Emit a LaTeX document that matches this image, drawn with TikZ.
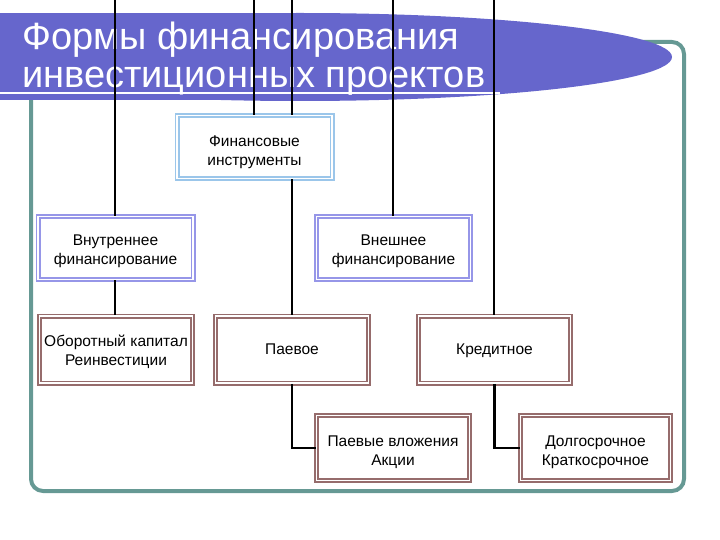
\documentclass[tikz,border=0pt]{standalone}
\usepackage{fontspec}
\setmainfont{Liberation Sans}
\definecolor{titleblue}{RGB}{102,102,204}
\definecolor{frameteal}{RGB}{102,153,148}
\definecolor{lightblue}{RGB}{155,198,234}
\definecolor{lavender}{RGB}{150,150,232}
\definecolor{mauve}{RGB}{150,108,108}
\newcommand{\bxtext}[2][4pt]{\raisebox{-#1}[\height][\depth]{\begin{tabular}{@{}c@{}}#2\end{tabular}}}
\tikzset{
  box/.style={rectangle, fill=white, draw=#1, double=white, double distance=1.6pt,
    line width=1.7pt, inner sep=0pt, text=black,
    font=\fontsize{15.5}{19}\selectfont},
  conn/.style={draw=black, line width=2.2pt},
  titletext/.style={anchor=base west, text=white, inner sep=0pt,
    font=\fontsize{38}{40}\selectfont}
}
\begin{document}
\begin{tikzpicture}[x=1pt,y=-1pt]
\useasboundingbox (0,0) rectangle (720,540);
\begin{scope}
\clip (0,0) rectangle (720,540);
% frame
\draw[frameteal, line width=4pt, rounded corners=12pt] (31,42) rectangle (684,491);
% title band
\fill[titleblue] (0,13) rectangle (300,100);
\fill[titleblue] (300,57) ellipse [x radius=372pt, y radius=44pt];
\draw[white, line width=2pt] (0,93) -- (500,93);
\end{scope}
\node[titletext] (title1) at (22,50) {Формы финансирования};
\node[titletext] (title2) at (22,88) {инвестиционных проектов};
% boxes
\node[box=lightblue, minimum width=155pt, minimum height=63pt] (fin) at (254.5,147) {\bxtext[5pt]{Финансовые\\инструменты}};
\node[box=lavender, minimum width=155pt, minimum height=63pt] (vnut) at (115.5,248) {\bxtext[3.5pt]{Внутреннее\\финансирование}};
\node[box=lavender, minimum width=154pt, minimum height=63pt] (vnesh) at (393.5,248) {\bxtext[3.5pt]{Внешнее\\финансирование}};
\node[box=mauve, minimum width=153pt, minimum height=67pt] (obor) at (116,349.5) {\bxtext[2.5pt]{Оборотный капитал\\Реинвестиции}};
\node[box=mauve, minimum width=153pt, minimum height=67pt] (paev) at (292,349.5) {\bxtext[1pt]{Паевое}};
\node[box=mauve, minimum width=152pt, minimum height=67pt] (kred) at (494.5,349.5) {\bxtext[1pt]{Кредитное}};
\node[box=mauve, minimum width=153pt, minimum height=65pt] (paevv) at (393,448) {\bxtext[4pt]{Паевые вложения\\Акции}};
\node[box=mauve, minimum width=150pt, minimum height=65pt] (dolg) at (595.5,448) {\bxtext[4pt]{Долгосрочное\\Краткосрочное}};
% free ends at the top edge
\coordinate (t1) at (115,0);
\coordinate (t2) at (254,0);
\coordinate (t3) at (292,0);
\coordinate (t4) at (393,0);
\coordinate (t5) at (494,0);
% connectors
\draw[conn] (t1) -- (t1 |- vnut.north);
\draw[conn] (t2) -- (t2 |- fin.north);
\draw[conn] (t3) -- (t3 |- fin.north);
\draw[conn] (t4) -- (t4 |- vnesh.north);
\draw[conn] (t5) -- (t5 |- kred.north);
\draw[conn] (vnut.south -| t1) -- (t1 |- obor.north);
\draw[conn] (fin.south -| paev) -- (paev.north);
\draw[conn] (paev.south) |- (paevv.west);
\draw[conn] (kred.south) |- (dolg.west);
\end{tikzpicture}
\end{document}
